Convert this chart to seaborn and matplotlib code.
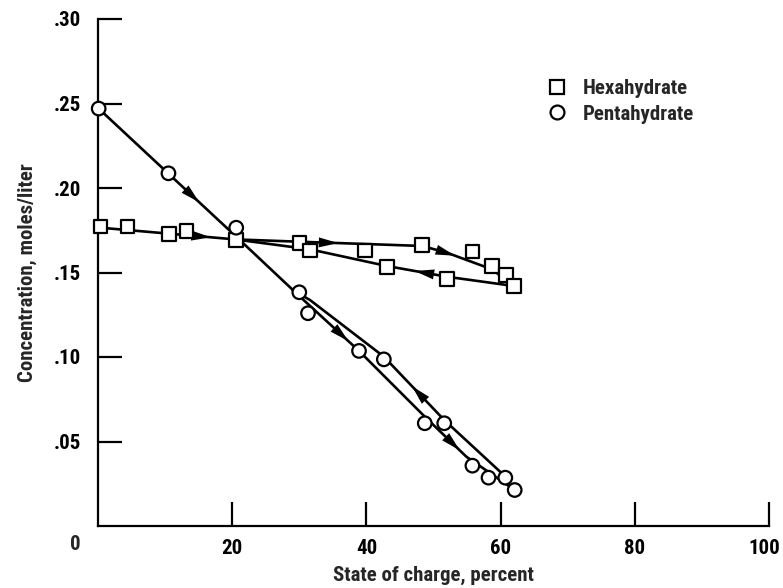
import numpy as np
import pandas as pd
import seaborn as sns
import matplotlib
matplotlib.use("Agg")
import matplotlib.pyplot as plt
import matplotlib.transforms as mtransforms
from matplotlib.lines import Line2D
from matplotlib import font_manager

# Measured points: state of charge (percent) and concentration (moles/liter)
hexa_x = [0.4, 4.4, 10.6, 13.2, 20.6, 30.0, 31.6, 39.8, 43.1, 48.3, 52.0, 55.8, 58.7, 60.8, 62.0]
hexa_y = [0.1771, 0.1771, 0.1728, 0.1746, 0.1692, 0.1673, 0.1629, 0.1629, 0.1531, 0.1663,
          0.1462, 0.1623, 0.1538, 0.1485, 0.1420]
penta_x = [0.1, 10.5, 20.6, 30.0, 31.3, 38.9, 42.6, 48.7, 51.6, 55.8, 58.2, 60.7, 62.1]
penta_y = [0.2470, 0.2087, 0.1765, 0.1383, 0.1259, 0.1036, 0.0986, 0.0608, 0.0608, 0.0357,
           0.0286, 0.0286, 0.0213]

# Faired curves: charge (increasing state of charge) and discharge (return path)
hexa_charge_x = [0.4, 20.4, 30.1, 48.3, 52.0, 58.7, 62.0]
hexa_charge_y = [0.1765, 0.1696, 0.1682, 0.1657, 0.1617, 0.1519, 0.1420]
hexa_discharge_x = [62.0, 52.0, 43.1, 31.6, 20.4]
hexa_discharge_y = [0.1420, 0.1475, 0.1538, 0.1637, 0.1696]
penta_charge_x = [0.1, 10.5, 20.6, 30.1, 38.9, 48.7, 54.9, 62.1]
penta_charge_y = [0.2470, 0.2085, 0.1712, 0.1357, 0.1036, 0.0647, 0.0410, 0.0213]
penta_discharge_x = [61.0, 51.6, 42.6, 31.6, 29.0]
penta_discharge_y = [0.0282, 0.0627, 0.1002, 0.1337, 0.1397]

# Direction arrows: x position along each curve
hexa_charge_arrows = [15.6, 34.6, 52.0]
hexa_discharge_arrows = [48.4]
penta_charge_arrows = [13.9, 36.1, 52.7]
penta_discharge_arrows = [48.0]

x_ticks = [20, 40, 60, 80, 100]
y_ticks = [0.05, 0.10, 0.15, 0.20, 0.25, 0.30]
y_tick_labels = [".05", ".10", ".15", ".20", ".25", ".30"]

sns.set_theme(style="ticks")

# Pick a narrow face if one is installed
names = {f.name for f in font_manager.fontManager.ttflist}
narrow = [n for n in ["Liberation Sans Narrow", "Roboto Condensed", "Open Sans Condensed",
                      "DejaVu Sans Condensed"] if n in names]
plt.rcParams["font.family"] = narrow + ["DejaVu Sans"]
plt.rcParams["font.stretch"] = "condensed"
plt.rcParams["font.weight"] = "bold"
FS = 15 if narrow else 12.5

W, H = 783, 588
fig = plt.figure(figsize=(W / 100, H / 100), dpi=100)
ax = fig.add_axes([98 / W, 1 - 526 / H, 671 / W, 507 / H])

lw_line = 1.9
curves = pd.concat([
    pd.DataFrame({"x": hexa_charge_x, "y": hexa_charge_y, "curve": "hc"}),
    pd.DataFrame({"x": hexa_discharge_x, "y": hexa_discharge_y, "curve": "hd"}),
    pd.DataFrame({"x": penta_charge_x, "y": penta_charge_y, "curve": "pc"}),
    pd.DataFrame({"x": penta_discharge_x, "y": penta_discharge_y, "curve": "pd"}),
], ignore_index=True)
for name, grp in curves.groupby("curve", sort=False):
    sns.lineplot(data=grp, x="x", y="y", sort=False, estimator=None, color="black",
                 lw=lw_line, ax=ax, legend=False, zorder=2)


def add_arrows(cx, cy, positions, forward):
    order = np.argsort(cx)
    xs = np.asarray(cx)[order]
    ys = np.asarray(cy)[order]
    for p in positions:
        d = 1.2
        x0, x1 = (p - d, p + d) if forward else (p + d, p - d)
        ax.annotate("", xy=(x1, np.interp(x1, xs, ys)), xytext=(x0, np.interp(x0, xs, ys)),
                    arrowprops=dict(arrowstyle="-|>,head_length=0.7,head_width=0.18",
                                    color="black", lw=0, shrinkA=0, shrinkB=0,
                                    mutation_scale=20), zorder=3)


add_arrows(hexa_charge_x, hexa_charge_y, hexa_charge_arrows, True)
add_arrows(hexa_discharge_x, hexa_discharge_y, hexa_discharge_arrows, False)
add_arrows(penta_charge_x, penta_charge_y, penta_charge_arrows, True)
add_arrows(penta_discharge_x, penta_discharge_y, penta_discharge_arrows, False)

pts = pd.concat([
    pd.DataFrame({"x": hexa_x, "y": hexa_y, "hydrate": "Hexahydrate"}),
    pd.DataFrame({"x": penta_x, "y": penta_y, "hydrate": "Pentahydrate"}),
], ignore_index=True)
markers = {"Hexahydrate": "s", "Pentahydrate": "o"}
sns.scatterplot(data=pts, x="x", y="y", style="hydrate", markers=markers,
                s=95, facecolor="white", edgecolor="black", linewidth=1.6,
                ax=ax, legend=False, zorder=4, clip_on=False)

ax.set_xlim(0, 100)
ax.set_ylim(0, 0.30)
for s in ["top", "right"]:
    ax.spines[s].set_visible(False)
for s in ["left", "bottom"]:
    ax.spines[s].set_linewidth(1.6)
    ax.spines[s].set_color("black")

ax.set_xticks(x_ticks)
ax.set_xticklabels([str(t) for t in x_ticks])
ax.set_yticks(y_ticks)
ax.set_yticklabels(y_tick_labels)
ax.tick_params(axis="both", direction="in", length=17, width=1.6, color="black",
               labelsize=FS, labelcolor="black")
ax.tick_params(axis="y", pad=12)
ax.tick_params(axis="x", pad=9)
for lab in ax.get_xticklabels() + ax.get_yticklabels():
    lab.set_fontweight("bold")

# keep the last x label inside the figure edge
last = ax.get_xticklabels()[-1]
last.set_horizontalalignment("right")
last.set_transform(last.get_transform() +
                   mtransforms.ScaledTranslation(11 / 100, 0, fig.dpi_scale_trans))

ax.text(-3.4, -0.0055, "0", ha="center", va="top", fontsize=FS, fontweight="bold",
        clip_on=False)

ax.set_xlabel("State of charge, percent", fontsize=FS, fontweight="bold", labelpad=6)
ax.set_ylabel("Concentration, moles/liter", fontsize=FS, fontweight="bold", labelpad=12)
ax.grid(False)

handles = [Line2D([], [], ls="none", marker=markers[k], markersize=10, markerfacecolor="white",
                  markeredgecolor="black", markeredgewidth=1.6, label=k)
           for k in ["Hexahydrate", "Pentahydrate"]]
leg = ax.legend(handles=handles, loc="upper left", bbox_to_anchor=(538 / W, 1 - 71 / H),
                bbox_transform=fig.transFigure, frameon=False, fontsize=FS,
                handletextpad=0.75, labelspacing=0.3, borderaxespad=0, handlelength=1.0)
for t in leg.get_texts():
    t.set_fontweight("bold")

fig.savefig("out.png", dpi=100, facecolor="white")
